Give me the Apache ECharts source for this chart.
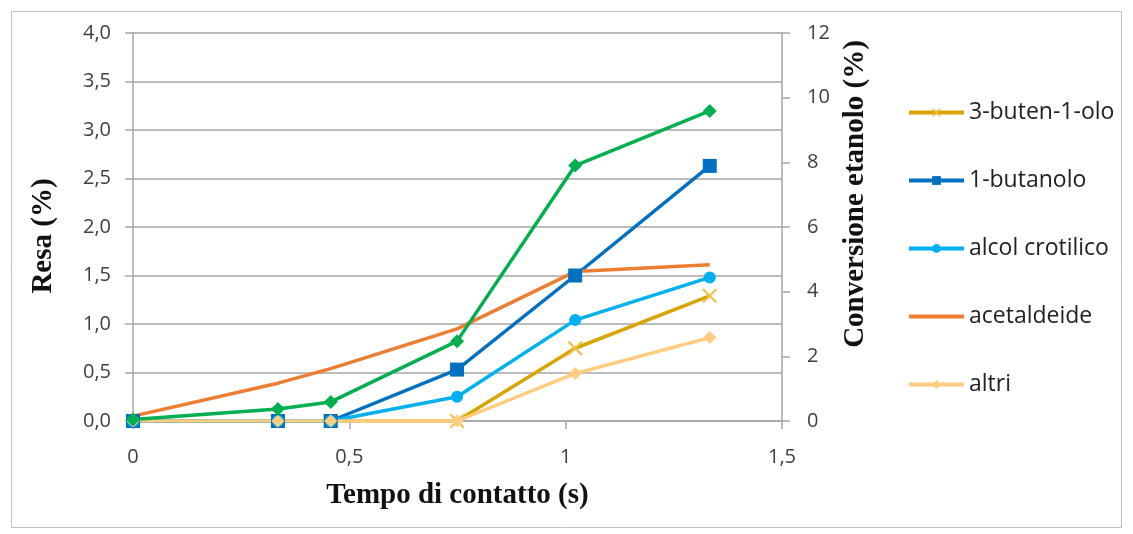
<!DOCTYPE html>
<html>
<head>
<meta charset="utf-8">
<script src="https://cdn.jsdelivr.net/npm/echarts@6/dist/echarts.min.js"></script>
<style>
  html, body { margin: 0; padding: 0; background: #fff; }
  #chart { width: 1133px; height: 534px; }
</style>
</head>
<body>
<div id="chart"></div>
<script>
// Tempo di contatto (s)
const tempi = [0, 0.335, 0.457, 0.749, 1.022, 1.333];

// Resa (%) - asse sinistro
const butenolo = [0, 0, 0, 0, 0.75, 1.29];
const butanolo = [0, 0, 0, 0.53, 1.50, 2.63];
const crotilico = [0, 0, 0, 0.25, 1.04, 1.48];
const acetaldeide = [0.05, 0.39, 0.54, 0.95, 1.54, 1.61];
const altri = [0, 0, 0, 0, 0.49, 0.86];

// Conversione etanolo (%) - asse destro
const conversione = [0.05, 0.37, 0.59, 2.47, 7.9, 9.59];

const chart = echarts.init(document.getElementById('chart'));

const coppie = vals => tempi.map((t, i) => [t, vals[i]]);

const croce = 'path://M0,1L1,0L5,4L9,0L10,1L6,5L10,9L9,10L5,6L1,10L0,9L4,5Z';
// solo linea per la legenda di acetaldeide
const soloLinea = 'path://M0,0h0.01v0.01h-0.01z M0,3.5h56v4h-56z M0,10.99h0.01v0.01h-0.01z';
const fontEtichette = 'Open Sans';
const fontTitoli = 'Liberation Serif';
const grigio = '#A6A6A6';

// titolo verticale (assi y)
const titoloVerticale = (testo, x, y) => ({
    type: 'text',
    x: x,
    y: y,
    rotation: Math.PI / 2,
    style: {
        text: testo,
        fontFamily: fontTitoli, fontWeight: 'bold', fontSize: 29, fill: '#111',
        align: 'center', verticalAlign: 'middle'
    },
    silent: true
});

const option = {
    animation: false,
    grid: { left: 133, right: 351, top: 33, bottom: 113 },
    legend: {
        orient: 'vertical',
        left: 902,
        top: 96,
        itemWidth: 55,
        itemHeight: 11,
        itemGap: 45,
        lineStyle: { width: 4 },
        textStyle: { fontFamily: fontEtichette, fontSize: 23, color: '#222' },
        data: [
            '3-buten-1-olo',
            '1-butanolo',
            'alcol crotilico',
            { name: 'acetaldeide', icon: soloLinea },
            'altri'
        ]
    },
    xAxis: {
        type: 'value',
        min: 0,
        max: 1.5,
        interval: 0.5,
        name: 'Tempo di contatto (s)',
        nameLocation: 'middle',
        nameGap: 60,
        nameTextStyle: { fontFamily: fontTitoli, fontWeight: 'bold', fontSize: 29, color: '#111' },
        axisLine: { show: true, lineStyle: { color: grigio, width: 1.5 } },
        axisTick: { show: true, length: 8, lineStyle: { color: grigio, width: 1.5 } },
        splitLine: { show: false },
        axisLabel: {
            margin: 26,
            fontFamily: fontEtichette, fontSize: 20, color: '#404040',
            formatter: v => String(v).replace('.', ',')
        }
    },
    yAxis: [
        {
            type: 'value',
            min: 0,
            max: 4,
            interval: 0.5,
            axisLine: { show: true, lineStyle: { color: grigio, width: 1.5 } },
            axisTick: { show: true, length: 8, lineStyle: { color: grigio, width: 1.5 } },
            splitLine: { show: true, lineStyle: { color: grigio, width: 1.5 } },
            axisLabel: {
                margin: 22,
                fontFamily: fontEtichette, fontSize: 20, color: '#404040',
                formatter: v => v.toFixed(1).replace('.', ',')
            }
        },
        {
            type: 'value',
            min: 0,
            max: 12,
            interval: 2,
            position: 'right',
            axisLine: { show: true, lineStyle: { color: grigio, width: 1.5 } },
            axisTick: { show: true, length: 8, lineStyle: { color: grigio, width: 1.5 } },
            splitLine: { show: false },
            axisLabel: {
                margin: 25,
                fontFamily: fontEtichette, fontSize: 20, color: '#404040'
            }
        }
    ],
    series: [
        {
            name: '3-buten-1-olo', type: 'line', yAxisIndex: 0,
            data: coppie(butenolo),
            symbol: croce, symbolSize: 15,
            lineStyle: { color: '#D9A300', width: 3.5 },
            itemStyle: { color: '#F2C04A' }
        },
        {
            name: '1-butanolo', type: 'line', yAxisIndex: 0,
            data: coppie(butanolo),
            symbol: 'rect', symbolSize: 14,
            lineStyle: { color: '#0070C0', width: 3.5 },
            itemStyle: { color: '#0070C0' }
        },
        {
            name: 'alcol crotilico', type: 'line', yAxisIndex: 0,
            data: coppie(crotilico),
            symbol: 'circle', symbolSize: 12,
            lineStyle: { color: '#00B0F0', width: 3.5 },
            itemStyle: { color: '#00B0F0' }
        },
        {
            name: 'acetaldeide', type: 'line', yAxisIndex: 0,
            data: coppie(acetaldeide),
            symbol: 'none',
            lineStyle: { color: '#ED7D31', width: 3.5 },
            itemStyle: { color: '#ED7D31' }
        },
        {
            name: 'altri', type: 'line', yAxisIndex: 0,
            data: coppie(altri),
            symbol: 'diamond', symbolSize: 13,
            lineStyle: { color: '#FFCC80', width: 3.5 },
            itemStyle: { color: '#FFCC80' }
        },
        {
            name: 'Conversione etanolo', type: 'line', yAxisIndex: 1,
            data: coppie(conversione),
            symbol: 'diamond', symbolSize: 14,
            lineStyle: { color: '#00B050', width: 3.5 },
            itemStyle: { color: '#00B050' }
        }
    ],
    graphic: [
        {
            type: 'rect',
            shape: { x: 11.5, y: 11.5, width: 1110, height: 516 },
            style: { fill: 'none', stroke: '#BFBFBF', lineWidth: 1 },
            silent: true
        },
        titoloVerticale('Resa (%)', 44, 236),
        titoloVerticale('Conversione etanolo (%)', 856, 194)
    ]
};

chart.setOption(option);
</script>
</body>
</html>
